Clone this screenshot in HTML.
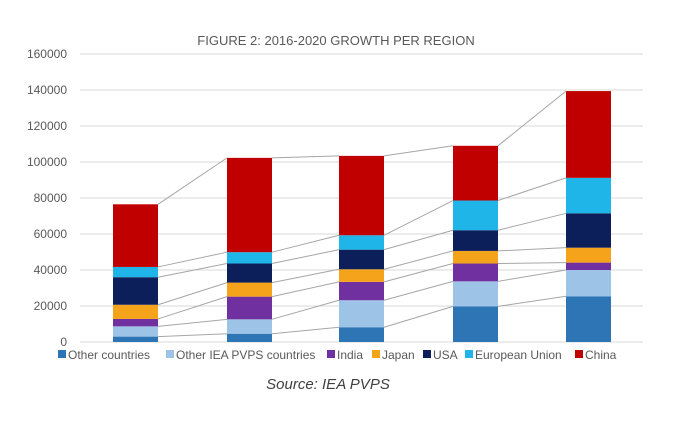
<!DOCTYPE html>
<html><head><meta charset="utf-8"><style>
html,body{margin:0;padding:0;background:#fff;}
svg{display:block;}
</style></head><body>
<svg width="684" height="425" viewBox="0 0 684 425" xmlns="http://www.w3.org/2000/svg" font-family="'Liberation Sans', sans-serif">
<rect width="684" height="425" fill="#fff"/>
<text x="336" y="45" text-anchor="middle" font-size="13" fill="#595959">FIGURE 2: 2016-2020 GROWTH PER REGION</text>
<g stroke="#d9d9d9" stroke-width="1">
<line x1="80" y1="54" x2="643" y2="54"/><line x1="80" y1="90" x2="643" y2="90"/>
<line x1="80" y1="126" x2="643" y2="126"/><line x1="80" y1="162" x2="643" y2="162"/>
<line x1="80" y1="198" x2="643" y2="198"/><line x1="80" y1="234" x2="643" y2="234"/>
<line x1="80" y1="270" x2="643" y2="270"/><line x1="80" y1="306" x2="643" y2="306"/>
<line x1="80" y1="342" x2="643" y2="342"/>
</g>
<g font-size="12" fill="#595959" text-anchor="end">
<text x="67" y="58">160000</text><text x="67" y="94">140000</text><text x="67" y="130">120000</text>
<text x="67" y="166">100000</text><text x="67" y="202">80000</text><text x="67" y="238">60000</text>
<text x="67" y="274">40000</text><text x="67" y="310">20000</text><text x="67" y="346">0</text>
</g>
<g id="bars"></g>
<g id="lines" stroke="#a6a6a6" stroke-width="1" fill="none"></g>
<g font-size="12" fill="#595959">
<rect x="58" y="350" width="8" height="8" fill="#2e75b6"/><text x="68" y="359">Other countries</text>
<rect x="166" y="350" width="8" height="8" fill="#9dc3e6"/><text x="176" y="359">Other IEA PVPS countries</text>
<rect x="327" y="350" width="8" height="8" fill="#7030a0"/><text x="337" y="359">India</text>
<rect x="372" y="350" width="8" height="8" fill="#f5a31a"/><text x="382" y="359">Japan</text>
<rect x="423" y="350" width="8" height="8" fill="#0c1f5a"/><text x="433" y="359">USA</text>
<rect x="465" y="350" width="8" height="8" fill="#1fb5e8"/><text x="475" y="359">European Union</text>
<rect x="575" y="350" width="8" height="8" fill="#c00000"/><text x="585" y="359">China</text>
</g>
<text x="328" y="389" text-anchor="middle" font-size="15" font-style="italic" fill="#404040">Source: IEA PVPS</text>
<script>
var cols=["#2e75b6","#9dc3e6","#7030a0","#f5a31a","#0c1f5a","#1fb5e8","#c00000"];
var data=[[3000,8700,12800,20700,36000,41700,76500],[4600,12600,25200,33000,43600,49900,102300],
[8200,23200,33400,40400,51300,59300,103400],[19800,33700,43600,50600,62100,78600,109000],
[25400,40000,44100,52400,71500,91200,139400]];
var xs=[113,227,339,453,566],w=45;
function Y(v){return 342-v*288/160000;}
var b=document.getElementById("bars"),l=document.getElementById("lines"),ns="http://www.w3.org/2000/svg";
for(var i=0;i<5;i++){var prev=0;for(var j=0;j<7;j++){var r=document.createElementNS(ns,"rect");
r.setAttribute("x",xs[i]);r.setAttribute("width",w);r.setAttribute("y",Y(data[i][j]));
r.setAttribute("height",Y(prev)-Y(data[i][j]));r.setAttribute("fill",cols[j]);b.appendChild(r);prev=data[i][j];}}
for(var i=0;i<4;i++)for(var j=0;j<7;j++){var ln=document.createElementNS(ns,"line");
ln.setAttribute("x1",xs[i]+w);ln.setAttribute("y1",Y(data[i][j]));ln.setAttribute("x2",xs[i+1]);ln.setAttribute("y2",Y(data[i+1][j]));l.appendChild(ln);}
</script>
</svg>
</body></html>
